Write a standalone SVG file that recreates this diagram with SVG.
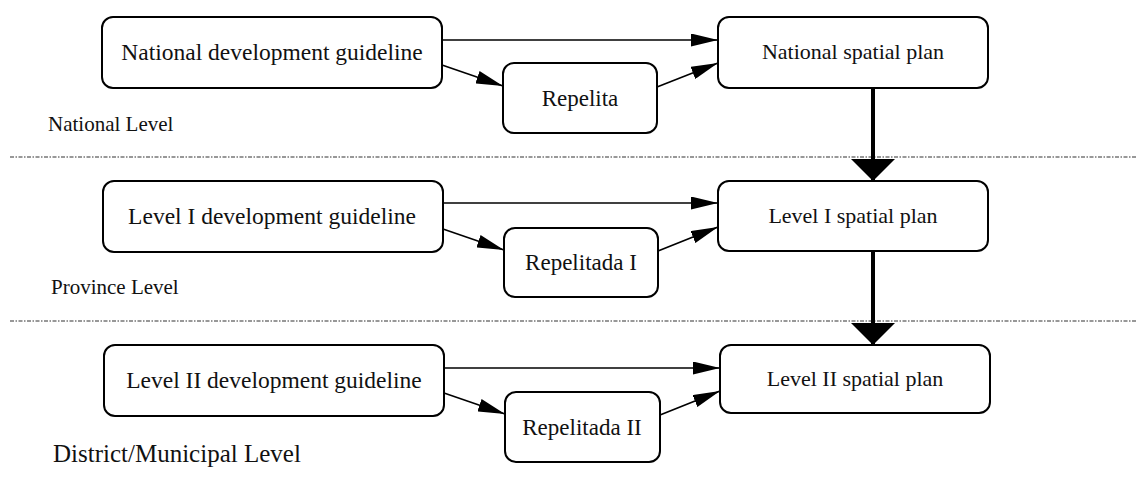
<svg xmlns="http://www.w3.org/2000/svg" width="1136" height="481" viewBox="0 0 1136 481">
  <style>
    .box { fill: #ffffff; stroke: #000000; stroke-width: 2; }
    .lbl { font-family: "Liberation Serif", "Times New Roman", serif; font-size: 22px; fill: #111111; text-anchor: middle; }
    .guide { font-size: 23.5px; }
    .rep { font-size: 23px; }
    .lvl { font-family: "Liberation Serif", "Times New Roman", serif; font-size: 21px; fill: #111111; }
    .sep { stroke: #333333; stroke-width: 1.2; stroke-dasharray: 4 1.5 1.5 1.5; fill: none; }
    .edge { stroke: #000000; stroke-width: 1.6; fill: none; marker-end: url(#head); }
    .flow { stroke: #000000; stroke-width: 4; fill: none; marker-end: url(#bighead); }
  </style>
  <defs>
    <marker id="head" markerUnits="userSpaceOnUse" markerWidth="27" markerHeight="13" refX="27" refY="6.5" orient="auto">
      <path d="M0,0 L27,6.5 L0,13 Z" fill="#000000"/>
    </marker>
    <marker id="bighead" markerUnits="userSpaceOnUse" markerWidth="22" markerHeight="44" refX="22" refY="22" orient="auto">
      <path d="M0,0 L22,22 L0,44 Z" fill="#000000"/>
    </marker>
  </defs>
  <rect width="1136" height="481" fill="#ffffff"/>

  <!-- level separators -->
  <line class="sep" x1="10" y1="157" x2="1136" y2="157"/>
  <line class="sep" x1="10" y1="321" x2="1136" y2="321"/>

  <!-- level labels -->
  <text class="lvl" x="48" y="131">National Level</text>
  <text class="lvl" x="51" y="294">Province Level</text>
  <text class="lvl" x="53" y="462" style="font-size:25px">District/Municipal Level</text>

  <g id="connectors">
    <!-- national -->
    <line class="edge" x1="442" y1="40" x2="718" y2="40"/>
    <line class="edge" x1="442" y1="65" x2="503" y2="86"/>
    <line class="edge" x1="657" y1="87" x2="718" y2="63"/>
    <!-- province -->
    <line class="edge" x1="443" y1="203" x2="718" y2="203"/>
    <line class="edge" x1="443" y1="229" x2="504" y2="250"/>
    <line class="edge" x1="658" y1="251" x2="718" y2="227"/>
    <!-- district / municipal -->
    <line class="edge" x1="444" y1="368" x2="720" y2="368"/>
    <line class="edge" x1="444" y1="393" x2="505" y2="414"/>
    <line class="edge" x1="660" y1="415" x2="720" y2="391"/>
    <!-- downward flow between spatial plans -->
    <line class="flow" x1="873" y1="88" x2="873" y2="181"/>
    <line class="flow" x1="873" y1="251" x2="873" y2="345"/>
  </g>

  <g id="national-guideline">
    <rect class="box" x="102" y="17" width="340" height="71" rx="11"/>
    <text class="lbl guide" x="272" y="60">National development guideline</text>
  </g>
  <g id="repelita">
    <rect class="box" x="503" y="63" width="154" height="70" rx="11"/>
    <text class="lbl rep" x="580" y="106">Repelita</text>
  </g>
  <g id="national-spatial-plan">
    <rect class="box" x="718" y="17" width="270" height="71" rx="11"/>
    <text class="lbl" x="853" y="59">National spatial plan</text>
  </g>

  <g id="level1-guideline">
    <rect class="box" x="103" y="181" width="340" height="71" rx="11"/>
    <text class="lbl guide" x="272" y="224">Level I development guideline</text>
  </g>
  <g id="repelitada1">
    <rect class="box" x="504" y="228" width="154" height="69" rx="11"/>
    <text class="lbl rep" x="581" y="270">Repelitada I</text>
  </g>
  <g id="level1-spatial-plan">
    <rect class="box" x="718" y="181" width="270" height="70" rx="11"/>
    <text class="lbl" x="853" y="223">Level I spatial plan</text>
  </g>

  <g id="level2-guideline">
    <rect class="box" x="104" y="345" width="340" height="71" rx="11"/>
    <text class="lbl guide" x="274" y="388">Level II development guideline</text>
  </g>
  <g id="repelitada2">
    <rect class="box" x="505" y="392" width="155" height="70" rx="11"/>
    <text class="lbl rep" x="582" y="435">Repelitada II</text>
  </g>
  <g id="level2-spatial-plan">
    <rect class="box" x="720" y="345" width="270" height="68" rx="11"/>
    <text class="lbl" x="855" y="386">Level II spatial plan</text>
  </g>
</svg>
